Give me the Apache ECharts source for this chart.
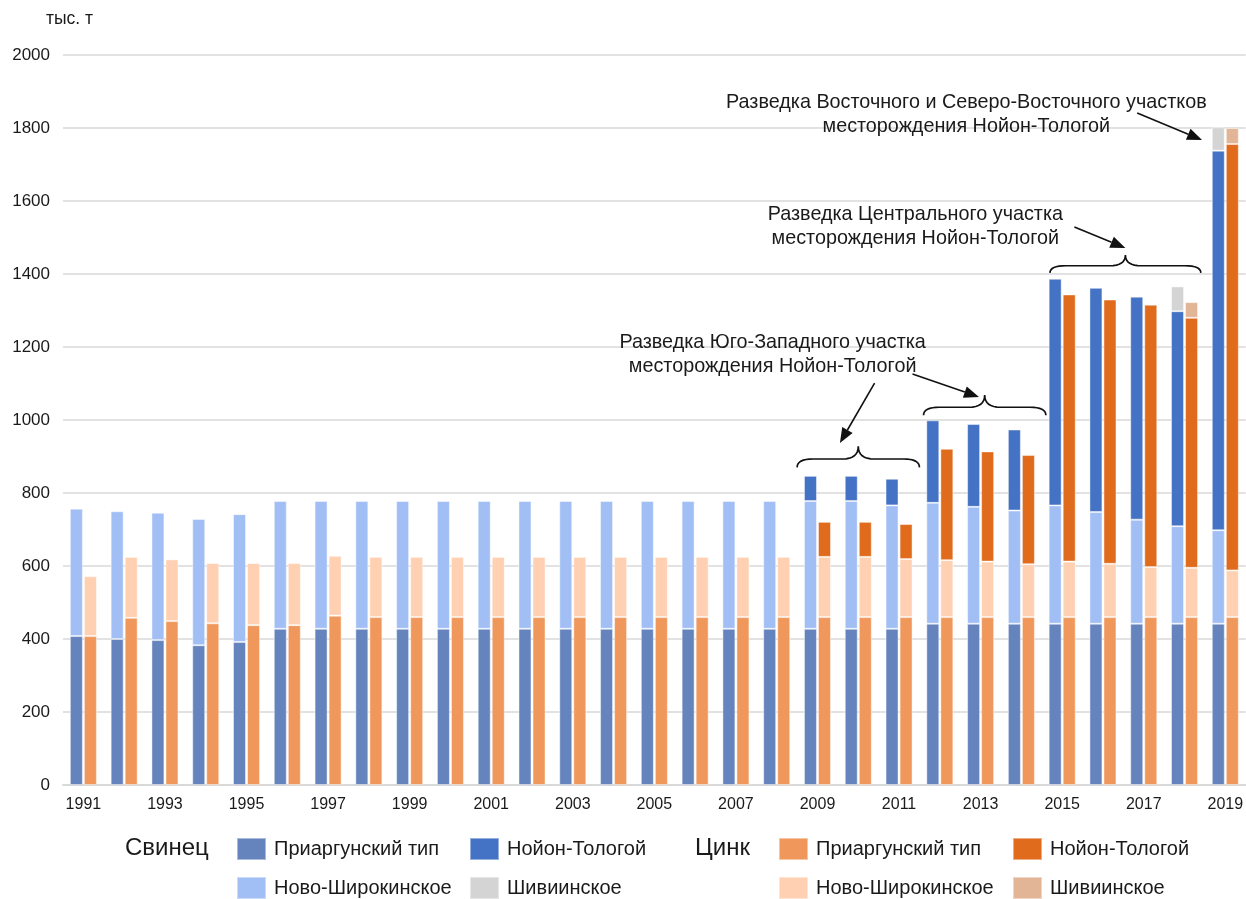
<!DOCTYPE html>
<html>
<head>
<meta charset="utf-8">
<script src="https://cdn.jsdelivr.net/npm/echarts@6/dist/echarts.min.js"></script>
<style>
  html, body { margin: 0; padding: 0; background: #fff; }
  #chart { width: 1246px; height: 899px; }
</style>
</head>
<body>
<div id="chart"></div>
<script>
// Годы
const years = ['1991','1992','1993','1994','1995','1996','1997','1998','1999','2000',
  '2001','2002','2003','2004','2005','2006','2007','2008','2009','2010',
  '2011','2012','2013','2014','2015','2016','2017','2018','2019'];

// Свинец, тыс. т
const leadPriarg = [408,400,397,383,392,428,428,428,428,428,
  428,428,428,428,428,428,428,428,428,428,
  428,442,442,442,442,442,442,442,442];
const leadNovo = [349,350,349,346,350,350,350,350,350,350,
  350,350,350,350,350,350,350,350,350,350,
  338,331,320,310,324,306,285,267,256];
const leadNoyon = [null,null,null,null,null,null,null,null,null,null,
  null,null,null,null,null,null,null,null,69,69,
  73,226,227,222,621,614,611,589,1040];
const leadShiv = [null,null,null,null,null,null,null,null,null,null,
  null,null,null,null,null,null,null,null,null,null,
  null,null,null,null,null,null,null,68,64];

// Цинк, тыс. т
const zincPriarg = [408,458,449,443,438,438,464,460,460,460,
  460,460,460,460,460,460,460,460,460,460,
  460,460,460,460,460,460,460,460,460];
const zincNovo = [164,167,169,165,170,170,164,165,165,165,
  165,165,165,165,165,165,165,165,165,165,
  159,156,152,145,152,146,137,135,128];
const zincNoyon = [null,null,null,null,null,null,null,null,null,null,
  null,null,null,null,null,null,null,null,96,96,
  96,305,302,299,732,724,719,685,1168];
const zincShiv = [null,null,null,null,null,null,null,null,null,null,
  null,null,null,null,null,null,null,null,null,null,
  null,null,null,null,null,null,null,43,44];

const yTicks = { min: 0, max: 2000, interval: 200 };

const FONT = '"Liberation Sans", Arial, sans-serif';
const TXT = '#1a1a1a';

const colors = {
  leadPriarg: '#6584BE', leadNoyon: '#4472C4', leadNovo: '#A1BFF5', leadShiv: '#D4D4D4',
  zincPriarg: '#F0985C', zincNoyon: '#E06B1D', zincNovo: '#FFD0B1', zincShiv: '#E3B597'
};

function bar(name, stack, data, color) {
  return {
    name: name, type: 'bar', stack: stack, data: data,
    barWidth: 13, barGap: '8%',
    itemStyle: { color: color, borderColor: 'rgba(255,255,255,0.45)', borderWidth: 1 },
    emphasis: { disabled: true }
  };
}

const series = [
  bar('Свинец|Приаргунский тип', 'lead', leadPriarg, colors.leadPriarg),
  bar('Свинец|Ново-Широкинское', 'lead', leadNovo, colors.leadNovo),
  bar('Свинец|Нойон-Тологой', 'lead', leadNoyon, colors.leadNoyon),
  bar('Свинец|Шивиинское', 'lead', leadShiv, colors.leadShiv),
  bar('Цинк|Приаргунский тип', 'zinc', zincPriarg, colors.zincPriarg),
  bar('Цинк|Ново-Широкинское', 'zinc', zincNovo, colors.zincNovo),
  bar('Цинк|Нойон-Тологой', 'zinc', zincNoyon, colors.zincNoyon),
  bar('Цинк|Шивиинское', 'zinc', zincShiv, colors.zincShiv)
];

// одна запись легенды на компонент — раскладка в две строки
function legendItem(left, top, name) {
  return {
    left: left, top: top, padding: 0,
    itemWidth: 29, itemHeight: 22,
    icon: 'rect', selectedMode: false,
    data: [name],
    formatter: function (n) { return n.split('|')[1]; },
    textStyle: { fontFamily: FONT, fontSize: 20, color: TXT, padding: [0, 0, 0, 3] }
  };
}
const ROW1 = 837, ROW2 = 876;

const chart = echarts.init(document.getElementById('chart'), null, { renderer: 'canvas' });

chart.setOption({
  animation: false,
  textStyle: { fontFamily: FONT },
  grid: { left: 63, top: 55, width: 1189, height: 730, containLabel: false },
  xAxis: {
    type: 'category', data: years,
    axisTick: { show: false },
    axisLine: { lineStyle: { color: '#d9d9d9', width: 2 } },
    axisLabel: { interval: 1, fontSize: 16, color: TXT, margin: 12, fontFamily: FONT }
  },
  yAxis: {
    type: 'value', min: yTicks.min, max: yTicks.max, interval: yTicks.interval,
    axisLine: { show: false }, axisTick: { show: false },
    axisLabel: { fontSize: 17, color: TXT, margin: 13, fontFamily: FONT,
      formatter: v => String(v) },
    splitLine: { lineStyle: { color: '#d9d9d9', width: 1.5 } }
  },
  legend: [
    legendItem(236, ROW1, 'Свинец|Приаргунский тип'),
    legendItem(236, ROW2, 'Свинец|Ново-Широкинское'),
    legendItem(469, ROW1, 'Свинец|Нойон-Тологой'),
    legendItem(469, ROW2, 'Свинец|Шивиинское'),
    legendItem(778, ROW1, 'Цинк|Приаргунский тип'),
    legendItem(778, ROW2, 'Цинк|Ново-Широкинское'),
    legendItem(1012, ROW1, 'Цинк|Нойон-Тологой'),
    legendItem(1012, ROW2, 'Цинк|Шивиинское')
  ],
  series: series
});

// Подписи, стрелки и фигурные скобки, привязанные к осям
const x0 = chart.convertToPixel({ xAxisIndex: 0 }, years[0]);
const step = chart.convertToPixel({ xAxisIndex: 0 }, years[1]) - x0;
const X = t => x0 + t * step;
const Y = v => chart.convertToPixel({ yAxisIndex: 0 }, v);

const notes = [
  { t: 16.9, v: 1178, text: 'Разведка Юго-Западного участка\nместорождения Нойон-Тологой' },
  { t: 20.4, v: 1530, text: 'Разведка Центрального участка\nместорождения Нойон-Тологой' },
  { t: 21.65, v: 1836, text: 'Разведка Восточного и Северо-Восточного участков\nместорождения Нойон-Тологой' }
];
const braces = [
  { from: 17.5, to: 20.5, base: 870, tip: 928 },
  { from: 20.6, to: 23.6, base: 1013, tip: 1068 },
  { from: 23.7, to: 27.4, base: 1403, tip: 1452 }
];
const arrows = [
  { t1: 19.4, v1: 1101, t2: 18.55, v2: 937 },
  { t1: 20.33, v1: 1126, t2: 21.96, v2: 1063 },
  { t1: 24.3, v1: 1529, t2: 25.55, v2: 1471 },
  { t1: 25.84, v1: 1841, t2: 27.43, v2: 1767 }
];

function quad(p0, p1, p2, n, out) {
  for (let i = 1; i <= n; i++) {
    const s = i / n, u = 1 - s;
    out.push([u * u * p0[0] + 2 * u * s * p1[0] + s * s * p2[0],
              u * u * p0[1] + 2 * u * s * p1[1] + s * s * p2[1]]);
  }
}

const gfx = [];
gfx.push({ type: 'text', x: 46, y: Y(2000) - 36,
  style: { text: 'тыс. т', font: '17.5px ' + FONT, fill: TXT, verticalAlign: 'middle' } });
gfx.push({ type: 'text', x: 125, y: ROW1 + 11,
  style: { text: 'Свинец', font: '24px ' + FONT, fill: TXT, verticalAlign: 'middle' } });
gfx.push({ type: 'text', x: 695, y: ROW1 + 11,
  style: { text: 'Цинк', font: '24px ' + FONT, fill: TXT, verticalAlign: 'middle' } });

notes.forEach(n => {
  gfx.push({ type: 'text', x: X(n.t), y: Y(n.v),
    style: { text: n.text, font: '19.8px ' + FONT, fill: TXT, align: 'center', verticalAlign: 'middle', lineHeight: 24 } });
});

braces.forEach(b => {
  const xl = X(b.from), xr = X(b.to), xc = (xl + xr) / 2;
  const yb = Y(b.base), yt = Y(b.tip), ym = yb - (yb - yt) * 0.4;
  const d = 16;
  const pts = [[xl, yb]];
  quad([xl, yb], [xl, ym], [xl + d, ym], 8, pts);
  pts.push([xc - d, ym]);
  quad([xc - d, ym], [xc, ym], [xc, yt], 8, pts);
  quad([xc, yt], [xc, ym], [xc + d, ym], 8, pts);
  pts.push([xr - d, ym]);
  quad([xr - d, ym], [xr, ym], [xr, yb], 8, pts);
  gfx.push({ type: 'polyline', shape: { points: pts },
    style: { fill: null, stroke: '#111', lineWidth: 1.7 } });
});

arrows.forEach(a => {
  const xa = X(a.t1), ya = Y(a.v1), xb = X(a.t2), yb = Y(a.v2);
  const ang = Math.atan2(yb - ya, xb - xa);
  const L = 15, W = 6;
  const bx = xb - L * Math.cos(ang), by = yb - L * Math.sin(ang);
  gfx.push({ type: 'line', shape: { x1: xa, y1: ya, x2: bx, y2: by },
    style: { stroke: '#111', lineWidth: 1.6 } });
  gfx.push({ type: 'polygon', shape: { points: [
      [xb, yb],
      [bx + W * Math.sin(ang), by - W * Math.cos(ang)],
      [bx - W * Math.sin(ang), by + W * Math.cos(ang)]
    ] }, style: { fill: '#111' } });
});

chart.setOption({ graphic: gfx });
</script>
</body>
</html>
